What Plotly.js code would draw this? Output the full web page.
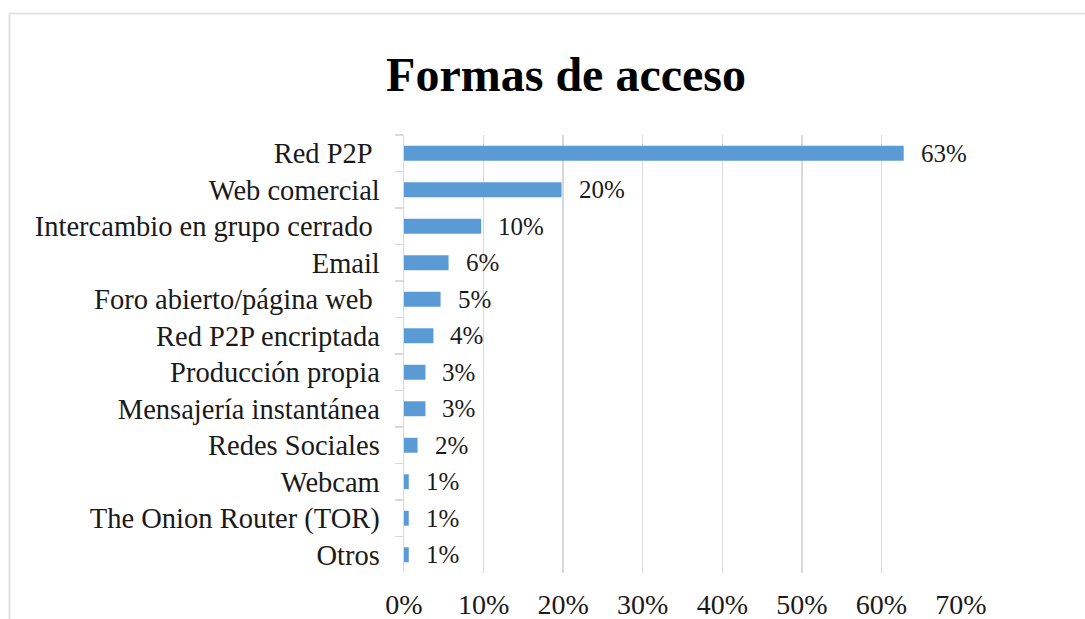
<!DOCTYPE html>
<html>
<head>
<meta charset="utf-8">
<script src="https://cdn.plot.ly/plotly-3.0.1.min.js"></script>
<style>
  html, body { margin: 0; padding: 0; background: #ffffff; }
  #chart { width: 1085px; height: 619px; }
</style>
</head>
<body>
<div id="chart"></div>
<script>
// Categories (top to bottom) and values (percent)
const categories = [
  "Red P2P\u00a0",
  "Web comercial",
  "Intercambio en grupo cerrado\u00a0",
  "Email",
  "Foro abierto/página web\u00a0",
  "Red P2P encriptada",
  "Producción propia",
  "Mensajería instantánea",
  "Redes Sociales",
  "Webcam",
  "The Onion Router (TOR)",
  "Otros"
];
const values = [62.8, 19.8, 9.7, 5.6, 4.6, 3.7, 2.7, 2.7, 1.7, 0.6, 0.6, 0.6];
const valueLabels = ["63%", "20%", "10%", "6%", "5%", "4%", "3%", "3%", "2%", "1%", "1%", "1%"];
const tickValues = [0, 10, 20, 30, 40, 50, 60, 70];
const tickLabels = ["0%", "10%", "20%", "30%", "40%", "50%", "60%", "70%"];

const serif = "'Liberation Serif', 'Times New Roman', serif";
const gridCol = "#d9d9d9";

const trace = {
  type: "bar",
  orientation: "h",
  x: values,
  y: categories,
  marker: { color: "#5b9bd5", line: { width: 0 } },
  width: 0.41,
  hoverinfo: "skip"
};

const annotations = values.map((v, i) => ({
  x: v,
  y: categories[i],
  xref: "x",
  yref: "y",
  text: valueLabels[i],
  showarrow: false,
  xanchor: "left",
  yanchor: "middle",
  xshift: 15,
  font: { family: serif, size: 25, color: "#1a1a1a" }
}));

const layout = {
  width: 1085,
  height: 619,
  margin: { l: 404, r: 124, t: 135, b: 46, pad: 0 },
  paper_bgcolor: "#ffffff",
  plot_bgcolor: "#ffffff",
  showlegend: false,
  title: {
    text: "<b>Formas de acceso</b>",
    font: { family: serif, size: 48, color: "#000000" },
    x: 0.5217,
    xanchor: "center",
    xref: "container",
    y: 0.88,
    yanchor: "middle",
    yref: "container"
  },
  xaxis: {
    range: [0, 70],
    tickvals: tickValues,
    ticktext: tickLabels,
    showgrid: true,
    gridcolor: gridCol,
    gridwidth: 1.5,
    zeroline: false,
    showline: false,
    ticks: "",
    ticklabelstandoff: 12,
    tickfont: { family: serif, size: 28, color: "#1a1a1a" },
    fixedrange: true
  },
  yaxis: {
    type: "category",
    autorange: "reversed",
    tickson: "boundaries",
    ticks: "outside",
    ticklen: 8,
    tickwidth: 1.5,
    tickcolor: gridCol,
    showline: true,
    linecolor: gridCol,
    linewidth: 1.5,
    showgrid: false,
    zeroline: false,
    ticklabelstandoff: 17,
    tickfont: { family: serif, size: 28.5, color: "#1a1a1a" },
    fixedrange: true
  },
  annotations: annotations,
  shapes: [{
    type: "rect",
    xref: "paper",
    yref: "paper",
    x0: (9.5 - 404) / 557,
    x1: (1100 - 404) / 557,
    y0: -(46 + 20) / 438,
    y1: 1 + (135 - 13.5) / 438,
    line: { color: "#e3e3e3", width: 2 },
    fillcolor: "rgba(0,0,0,0)",
    layer: "below"
  }]
};

Plotly.newPlot("chart", [trace], layout, { displayModeBar: false, staticPlot: true });
</script>
</body>
</html>
